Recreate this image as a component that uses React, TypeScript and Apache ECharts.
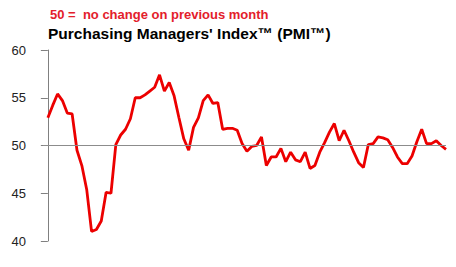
import React, { useEffect, useRef } from "react";
import * as echarts from "echarts";

const pmiValues: number[] = [
  52.9, 54.2, 55.4, 54.7, 53.4, 53.3, 49.5, 47.9, 45.4, 41.0,
  41.2, 42.1, 45.1, 45.0, 50.1, 51.1, 51.7, 52.8, 55.0, 55.0,
  55.3, 55.7, 56.1, 57.4, 55.7, 56.6, 55.2, 52.9, 50.7, 49.5,
  51.9, 52.9, 54.7, 55.3, 54.4, 54.5, 51.7, 51.8, 51.8, 51.6,
  50.2, 49.4, 49.9, 50.0, 50.9, 47.9, 48.8, 48.8, 49.7, 48.3,
  49.3, 48.5, 48.3, 49.3, 47.6, 47.9, 49.3, 50.3, 51.4, 52.3,
  50.5, 51.6, 50.5, 49.3, 48.2, 47.7, 50.1, 50.2, 50.9, 50.8,
  50.6, 49.8, 48.8, 48.1, 48.1, 48.9, 50.4, 51.7, 50.2, 50.2,
  50.5, 50.0, 49.6,
];
const yTicks: number[] = [40, 45, 50, 55, 60];
const titleText = "Purchasing Managers' Index\u2122 (PMI\u2122)";
const noteText = "50 =  no change on previous month";
const referenceLevel = 50;

export default function App() {
  const ref = useRef<HTMLDivElement>(null);
  useEffect(() => {
    if (!ref.current) return;
    const chart = echarts.init(ref.current, undefined, { renderer: "svg" });
    const data = pmiValues.map((v, i) => [i, v]);
    chart.setOption({
      animation: false,
      backgroundColor: "#ffffff",
      grid: { left: 43, right: 10, top: 50, bottom: 26, containLabel: false },
      xAxis: {
        type: "value",
        min: -1,
        max: pmiValues.length - 1,
        show: false,
      },
      yAxis: {
        type: "value",
        min: yTicks[0],
        max: yTicks[yTicks.length - 1],
        interval: 5,
        axisLine: { show: true, lineStyle: { color: "#808080", width: 1 } },
        axisTick: { show: true, length: 7, lineStyle: { color: "#808080", width: 1 } },
        axisLabel: {
          margin: 17,
          color: "#222222",
          fontSize: 13,
          fontFamily: "Liberation Sans, Arial, sans-serif",
        },
        splitLine: { show: false },
      },
      series: [
        {
          type: "line",
          data,
          symbol: "none",
          lineStyle: { color: "#ec0000", width: 2.8 },
          itemStyle: { color: "#ec0000" },
          markLine: {
            silent: true,
            symbol: "none",
            label: { show: false },
            lineStyle: { color: "#8c8c8c", width: 1, type: "solid" },
            data: [{ yAxis: referenceLevel }],
          },
          z: 3,
        },
      ],
      graphic: [
        {
          type: "text",
          left: 50,
          top: 8,
          style: {
            text: noteText,
            fill: "#e3202b",
            font: "bold 13px 'Liberation Sans', Arial, sans-serif",
          },
        },
        {
          type: "text",
          left: 48,
          top: 25,
          style: {
            text: titleText,
            fill: "#000000",
            font: "bold 15.5px 'Liberation Sans', Arial, sans-serif",
          },
        },
      ],
    });
    return () => chart.dispose();
  }, []);
  return <div ref={ref} style={{ width: 456, height: 267, position: "absolute", left: 0, top: 0 }} />;
}
